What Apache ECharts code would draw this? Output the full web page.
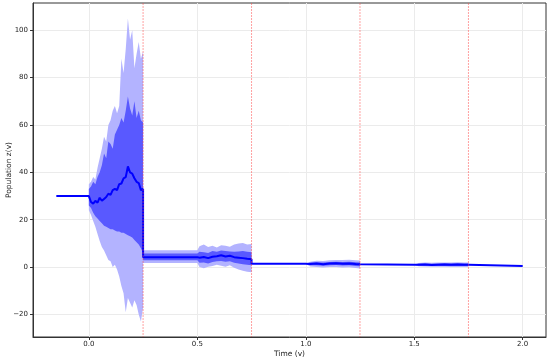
<!DOCTYPE html>
<html>
<head>
<meta charset="utf-8">
<script src="https://cdn.jsdelivr.net/npm/echarts@6/dist/echarts.min.js"></script>
<style>
  html, body { margin: 0; padding: 0; background: #fff; }
  #chart { width: 550px; height: 360px; }
</style>
</head>
<body>
<div id="chart"></div>
<script>
// time points (repeated x = jump between stages)
var timeX = [-0.15, 0.00,
  0.00, 0.01, 0.02, 0.03, 0.04, 0.05, 0.06, 0.07, 0.08, 0.09, 0.10, 0.11, 0.12,
  0.13, 0.14, 0.15, 0.16, 0.17, 0.18, 0.19, 0.20, 0.21, 0.22, 0.23, 0.24, 0.25,
  0.25, 0.50, 0.51, 0.53, 0.55, 0.57, 0.59, 0.61, 0.63, 0.65, 0.67, 0.69, 0.71, 0.73, 0.75,
  0.75, 1.00, 1.02, 1.05, 1.08, 1.11, 1.14, 1.17, 1.20, 1.23, 1.25,
  1.25, 1.50, 1.52, 1.55, 1.58, 1.61, 1.64, 1.67, 1.70, 1.73, 1.75,
  1.75, 2.00];
var meanY = [30, 30,
  29.5, 27.5, 26.8, 28, 27.2, 29.3, 28, 28.8, 29.6, 31, 30.5, 32.5, 33,
  32.5, 35, 35.3, 37.5, 38, 42.5, 40, 39.5, 37.5, 36, 35.5, 32.5, 33,
  4.2, 4.2, 4.0, 4.3, 3.8, 4.4, 4.6, 5.0, 4.5, 4.8, 4.2, 4.0, 3.8, 3.5, 3.3,
  1.4, 1.4, 1.3, 1.5, 1.2, 1.5, 1.6, 1.4, 1.5, 1.3, 1.2,
  1.0, 1.0, 1.0, 1.1, 0.9, 1.0, 1.1, 1.0, 1.1, 1.0, 1.0,
  0.5, 0.5];
var innerLo = [30, 30,
  26, 25, 23, 21.5, 20.5, 19.5, 18.5, 17.5, 17, 16.5, 16, 16, 15.5,
  15, 15, 14.5, 14.5, 14, 13.5, 13, 12.5, 11.5, 10.5, 9.5, 8, 6,
  2.9, 2.9, 1.8, 2.0, 1.5, 2.2, 2.5, 2.6, 2.3, 2.5, 1.8, 1.5, 1.2, 1.0, 0.8,
  1.4, 1.4, 0.8, 0.8, 0.6, 0.8, 0.9, 0.7, 0.8, 0.5, 0.4,
  1.0, 1.0, 0.7, 0.7, 0.5, 0.6, 0.6, 0.5, 0.6, 0.5, 0.5,
  0.5, 0.5];
var innerHi = [30, 30,
  33, 34, 36, 35, 38, 40, 43, 48, 46, 53, 52, 50, 56,
  58, 60, 63, 61, 66, 72, 67, 64, 70, 63, 66, 62, 61,
  5.8, 5.8, 6.5, 6.3, 6.0, 6.8, 6.5, 7.0, 6.8, 6.6, 6.5, 6.6, 6.8, 6.5, 6.3,
  1.4, 1.4, 1.9, 2.1, 1.9, 2.2, 2.3, 2.2, 2.3, 2.1, 2.0,
  1.0, 1.0, 1.4, 1.5, 1.4, 1.5, 1.6, 1.5, 1.6, 1.5, 1.5,
  0.5, 0.5];
var outerLo = [30, 30,
  24, 22, 19.5, 17, 14, 11, 8.5, 7, 5, 3, 2.5, 0, 1,
  -1, -4, -8, -11, -19, -13, -15, -17, -14, -16, -20, -23, -17,
  1.7, 1.7, 0.0, -0.5, 0.2, 0.5, 1.0, 0.6, 0.2, 0.8, -0.3, -1.0, -1.5, -2.0, -2.2,
  1.4, 1.4, 0.3, 0.0, -0.2, 0.0, 0.1, -0.2, -0.1, -0.4, -0.6,
  1.0, 1.0, 0.4, 0.3, 0.2, 0.2, 0.2, 0.0, 0.1, 0.0, 0.0,
  0.5, 0.5];
var outerHi = [30, 30,
  35, 36, 38, 37, 42, 46, 50, 55, 53, 60, 62, 66, 68,
  65, 68, 88, 82, 92, 105, 96, 100, 84, 90, 95, 88, 91,
  7.1, 7.1, 8.8, 9.5, 8.5, 9.0, 8.3, 9.2, 9.0, 8.6, 9.5, 10.0, 10.2, 9.6, 9.8,
  1.4, 1.4, 2.3, 2.7, 2.6, 2.9, 3.0, 3.0, 3.1, 2.9, 2.8,
  1.0, 1.0, 1.7, 1.9, 1.8, 1.9, 2.0, 2.0, 2.1, 2.0, 2.0,
  0.5, 0.5];
var stageLines = [0.25, 0.75, 1.25, 1.75];
var xTicks = [0, 0.5, 1.0, 1.5, 2.0];
var yTicks = [-20, 0, 20, 40, 60, 80, 100];
var yMin = -29.5, yMax = 111.5;

var chart = echarts.init(document.getElementById('chart'), null, { renderer: 'canvas' });

function bandSeries(lo, hi, color, z) {
  return {
    type: 'custom',
    coordinateSystem: 'cartesian2d',
    silent: true,
    z: z,
    data: [[timeX[0], lo[0]]],
    renderItem: function (params, api) {
      var pts = [];
      for (var i = 0; i < timeX.length; i++) {
        pts.push(api.coord([timeX[i], hi[i]]));
      }
      for (var j = timeX.length - 1; j >= 0; j--) {
        pts.push(api.coord([timeX[j], lo[j]]));
      }
      return { type: 'polygon', shape: { points: pts }, style: { fill: color } };
    }
  };
}

var txt = '#222';
var option = {
  animation: false,
  backgroundColor: '#fff',
  textStyle: { fontFamily: 'DejaVu Sans' },
  grid: {
    left: 33, right: 4, top: 3, bottom: 23,
    outerBoundsMode: 'none', containLabel: false,
    show: true, borderColor: '#333', borderWidth: 1, backgroundColor: '#fff'
  },
  xAxis: {
    type: 'value',
    min: -0.2575,
    max: 2.1075,
    name: 'Time (v)',
    nameLocation: 'middle',
    nameGap: 13,
    nameMoveOverlap: false,
    nameTextStyle: { fontSize: 7.5, color: txt },
    axisLine: { show: true, onZero: false, lineStyle: { color: '#333' } },
    axisTick: { show: true, length: 3, customValues: xTicks, lineStyle: { color: '#333' } },
    axisLabel: {
      customValues: xTicks, fontSize: 7, color: txt, margin: 4,
      formatter: function (v) { return v.toFixed(1); }
    },
    splitLine: { show: true, lineStyle: { color: '#ebebeb', width: 1 } }
  },
  yAxis: {
    type: 'value',
    min: yMin,
    max: yMax,
    name: 'Population z(v)',
    nameLocation: 'middle',
    nameGap: 20,
    nameMoveOverlap: false,
    nameTextStyle: { fontSize: 7.5, color: txt },
    axisLine: { show: true, onZero: false, lineStyle: { color: '#333' } },
    axisTick: { show: true, length: 3, customValues: yTicks, lineStyle: { color: '#333' } },
    axisLabel: {
      customValues: yTicks, fontSize: 7, color: txt, margin: 5,
      formatter: function (v) { return v < 0 ? '\u2212' + (-v) : String(v); }
    },
    splitLine: { show: true, lineStyle: { color: '#ebebeb', width: 1 } }
  },
  series: [
    bandSeries(outerLo, outerHi, '#b3b3ff', 2),
    bandSeries(innerLo, innerHi, '#5959ff', 3),
    {
      type: 'line',
      z: 4,
      showSymbol: false,
      silent: true,
      data: timeX.map(function (x, i) { return [x, meanY[i]]; }),
      lineStyle: { color: '#0000ff', width: 2 }
    },
    {
      // stage boundaries
      type: 'custom',
      coordinateSystem: 'cartesian2d',
      silent: true,
      z: 6,
      data: stageLines.map(function (x) { return [x, 0]; }),
      renderItem: function (params, api) {
        var p0 = api.coord([api.value(0), yMax]);
        var p1 = api.coord([api.value(0), yMin]);
        return {
          type: 'line',
          shape: { x1: p0[0], y1: p0[1], x2: p1[0], y2: p1[1] },
          style: { stroke: 'rgba(255,70,70,0.5)', lineWidth: 1, lineDash: [2, 1] }
        };
      }
    }
  ]
};
chart.setOption(option);
</script>
</body>
</html>
